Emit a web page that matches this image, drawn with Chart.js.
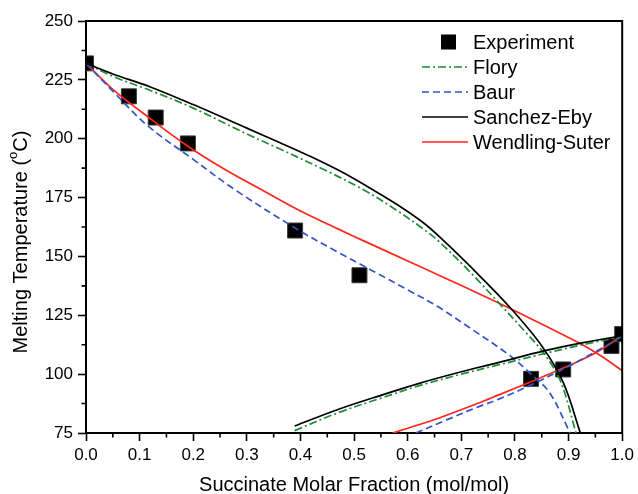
<!DOCTYPE html>
<html>
<head>
<meta charset="utf-8">
<script src="https://cdn.jsdelivr.net/npm/chart.js@4.4.1/dist/chart.umd.min.js"></script>
<style>
  html, body { margin: 0; padding: 0; background: #fff; }
  #wrap { width: 638px; height: 494px; }
</style>
</head>
<body>
<div id="wrap"><canvas id="chart" width="638" height="494"></canvas></div>
<script>
  // experimental points
  const expX = [0, 0.08, 0.13, 0.19, 0.39, 0.51, 0.83, 0.89, 0.98, 1.0]
  const expT = [232, 218, 209, 198, 161, 142, 98, 102, 112, 117]

  // liquidus branches (succinate rich side)
  const floryLiqX = [0, 0.05, 0.12, 0.2, 0.3, 0.36, 0.45, 0.52, 0.58, 0.63, 0.66, 0.72, 0.77, 0.82, 0.855, 0.885, 0.914]
  const floryLiqT = [232, 226.5, 220.5, 213, 202, 195.8, 186.2, 178, 169.5, 161.5, 156, 142.5, 130.2, 117.8, 108.5, 97, 75]
  const baurLiqX = [0, 0.05, 0.115, 0.2, 0.28, 0.4, 0.47, 0.545, 0.6, 0.656, 0.72, 0.79, 0.83, 0.865, 0.903]
  const baurLiqT = [232, 220.2, 205.5, 191.2, 178, 160.7, 151.8, 142.6, 135.8, 128.7, 119, 108, 100, 92, 75]
  const seLiqX = [0, 0.05, 0.12, 0.2, 0.3, 0.36, 0.42, 0.48, 0.54, 0.59, 0.631, 0.66, 0.72, 0.79, 0.85, 0.89, 0.922]
  const seLiqT = [232, 227.5, 222, 214.5, 204.5, 198.5, 192.3, 185.5, 177.6, 170.6, 164, 158.2, 145, 128.5, 112, 96.5, 75]
  const wsLiqX = [0, 0.05, 0.12, 0.19, 0.26, 0.33, 0.4, 0.47, 0.52, 0.6, 0.66, 0.73, 0.79, 0.86, 0.92, 0.96, 1.0]
  const wsLiqT = [232, 221, 208.5, 196.8, 186.8, 178, 169.3, 161.7, 156.4, 148.1, 141.8, 134.5, 128, 120.1, 113.2, 107.8, 101.5]

  // solidus branches
  const florySolX = [0.389, 0.47, 0.55, 0.62, 0.7, 0.767, 0.856, 0.93, 1.0]
  const florySolT = [76, 83.6, 89.8, 95, 100, 103.8, 108.8, 112.7, 116]
  const baurSolX = [0.615, 0.67, 0.73, 0.77, 0.828, 0.9, 0.95, 1.0]
  const baurSolT = [75, 80.3, 86, 89.4, 95.2, 103.3, 109.5, 116]
  const seSolX = [0.389, 0.47, 0.55, 0.62, 0.7, 0.767, 0.856, 0.93, 1.0]
  const seSolT = [78, 85, 91, 96, 101, 104.8, 110, 113.5, 116.3]
  const wsSolX = [0.572, 0.6, 0.66, 0.73, 0.77, 0.83, 0.89, 0.95, 1.0]
  const wsSolT = [75, 77, 81.5, 87.5, 91.2, 96.8, 102.6, 109, 116.3]

  const xTicks = [0, 0.1, 0.2, 0.3, 0.4, 0.5, 0.6, 0.7, 0.8, 0.9, 1.0]
  const yTicks = [75, 100, 125, 150, 175, 200, 225, 250]

  const fonte = '"Liberation Sans", Arial, Helvetica, sans-serif'
  const GREEN = 'rgb(34, 139, 58)'
  const BLUE = 'rgb(52, 84, 200)'
  const RED = 'rgb(255, 38, 28)'
  const BLACK = '#000'
  const DASH_DOT = [8, 3, 2, 3]
  const DASHED = [7, 4]

  function pontos(xs, ys) {
    return xs.map((x, i) => ({ x: x, y: ys[i] }))
  }

  function curva(label, xs, ys, cor, dash) {
    return {
      label: label,
      data: pontos(xs, ys),
      showLine: true,
      borderColor: cor,
      backgroundColor: cor,
      borderWidth: 1.7,
      borderDash: dash,
      pointRadius: 0,
      pointHoverRadius: 0,
      tension: 0.35,
      fill: false
    }
  }

  const legendRows = [
    { text: 'Experiment', square: true },
    { text: 'Flory', color: GREEN, dash: DASH_DOT },
    { text: 'Baur', color: BLUE, dash: DASHED },
    { text: 'Sanchez-Eby', color: BLACK, dash: [] },
    { text: 'Wendling-Suter', color: RED, dash: [] }
  ]

  // legend drawn inside the plot, top right
  const legendaInterna = {
    id: 'legendaInterna',
    afterDraw(chart) {
      const ctx = chart.ctx
      ctx.save()
      ctx.font = '20px ' + fonte
      ctx.textBaseline = 'middle'
      ctx.textAlign = 'left'
      legendRows.forEach((row, i) => {
        const y = 42 + i * 25
        if (row.square) {
          ctx.fillStyle = '#000'
          ctx.fillRect(441, y - 7.5, 15, 15)
        } else {
          ctx.strokeStyle = row.color
          ctx.lineWidth = 1.7
          ctx.setLineDash(row.dash)
          ctx.beginPath()
          ctx.moveTo(422, y)
          ctx.lineTo(468, y)
          ctx.stroke()
          ctx.setLineDash([])
        }
        ctx.fillStyle = '#000'
        ctx.fillText(row.text, 473, y + 1)
      })
      ctx.restore()
    }
  }

  // y axis title with the superscript "o" of oC
  const tituloY = {
    id: 'tituloY',
    afterDraw(chart) {
      const ctx = chart.ctx
      const partes = [
        { t: 'Melting Temperature (', size: 20, dy: 0 },
        { t: 'o', size: 13, dy: -8 },
        { t: 'C)', size: 20, dy: 0 }
      ]
      ctx.save()
      ctx.translate(21, 242)
      ctx.rotate(-Math.PI / 2)
      ctx.fillStyle = '#000'
      ctx.textBaseline = 'middle'
      ctx.textAlign = 'left'
      let total = 0
      partes.forEach(p => {
        ctx.font = p.size + 'px ' + fonte
        p.w = ctx.measureText(p.t).width
        total += p.w
      })
      let x = -total / 2
      partes.forEach(p => {
        ctx.font = p.size + 'px ' + fonte
        ctx.fillText(p.t, x, p.dy)
        x += p.w
      })
      ctx.restore()
    }
  }

  // top/right frame and minor ticks
  const moldura = {
    id: 'moldura',
    afterDraw(chart) {
      const ctx = chart.ctx
      const area = chart.chartArea
      const sx = chart.scales.x
      const sy = chart.scales.y
      ctx.save()
      ctx.strokeStyle = '#000'
      ctx.lineWidth = 2
      ctx.beginPath()
      ctx.moveTo(area.left - 1, area.top)
      ctx.lineTo(area.right, area.top)
      ctx.lineTo(area.right, area.bottom + 1)
      ctx.stroke()

      ctx.lineWidth = 1.6
      ctx.beginPath()
      for (let i = 0; i < xTicks.length - 1; i++) {
        const px = sx.getPixelForValue((xTicks[i] + xTicks[i + 1]) / 2)
        ctx.moveTo(px, area.bottom)
        ctx.lineTo(px, area.bottom + 4.5)
      }
      for (let i = 0; i < yTicks.length - 1; i++) {
        const py = sy.getPixelForValue((yTicks[i] + yTicks[i + 1]) / 2)
        ctx.moveTo(area.left, py)
        ctx.lineTo(area.left - 4.5, py)
      }
      ctx.stroke()
      ctx.restore()
    }
  }

  const ctx = document.getElementById('chart')

  new Chart(ctx, {
    type: 'scatter',
    data: {
      datasets: [
        curva('Sanchez-Eby', seLiqX, seLiqT, BLACK, []),
        curva('Sanchez-Eby solidus', seSolX, seSolT, BLACK, []),
        curva('Flory', floryLiqX, floryLiqT, GREEN, DASH_DOT),
        curva('Flory solidus', florySolX, florySolT, GREEN, DASH_DOT),
        curva('Baur', baurLiqX, baurLiqT, BLUE, DASHED),
        curva('Baur solidus', baurSolX, baurSolT, BLUE, DASHED),
        curva('Wendling-Suter', wsLiqX, wsLiqT, RED, []),
        curva('Wendling-Suter solidus', wsSolX, wsSolT, RED, []),
        {
          label: 'Experiment',
          data: pontos(expX, expT),
          showLine: false,
          pointStyle: 'rect',
          pointRadius: 10.6,
          pointHoverRadius: 10.6,
          backgroundColor: '#000',
          borderColor: '#3a3a3a',
          borderWidth: 1
        }
      ]
    },
    options: {
      responsive: false,
      animation: false,
      layout: { padding: { top: 21, right: 12, left: 0, bottom: 0 } },
      plugins: {
        legend: { display: false },
        tooltip: { enabled: false }
      },
      scales: {
        x: {
          type: 'linear',
          min: 0,
          max: 1,
          afterFit: (scale) => { scale.height = 61 },
          afterBuildTicks: (scale) => { scale.ticks = xTicks.map(v => ({ value: v })) },
          grid: { drawOnChartArea: false, drawTicks: true, tickLength: 8, tickWidth: 1.6, tickColor: '#000' },
          border: { display: true, color: '#000', width: 2 },
          ticks: {
            color: '#000',
            padding: 4,
            font: { family: fonte, size: 17 },
            maxRotation: 0,
            callback: (v) => Number(v).toFixed(1)
          },
          title: {
            display: true,
            text: 'Succinate Molar Fraction (mol/mol)',
            color: '#000',
            font: { family: fonte, size: 20, lineHeight: 1 },
            padding: { top: 0, bottom: -1 }
          }
        },
        y: {
          type: 'linear',
          min: 75,
          max: 250,
          afterFit: (scale) => { scale.width = 86 },
          afterBuildTicks: (scale) => { scale.ticks = yTicks.map(v => ({ value: v })) },
          grid: { drawOnChartArea: false, drawTicks: true, tickLength: 8, tickWidth: 1.6, tickColor: '#000' },
          border: { display: true, color: '#000', width: 2 },
          ticks: {
            color: '#000',
            padding: 5,
            font: { family: fonte, size: 17 }
          },
          title: { display: false }
        }
      }
    },
    plugins: [moldura, legendaInterna, tituloY]
  })
</script>
</body>
</html>
